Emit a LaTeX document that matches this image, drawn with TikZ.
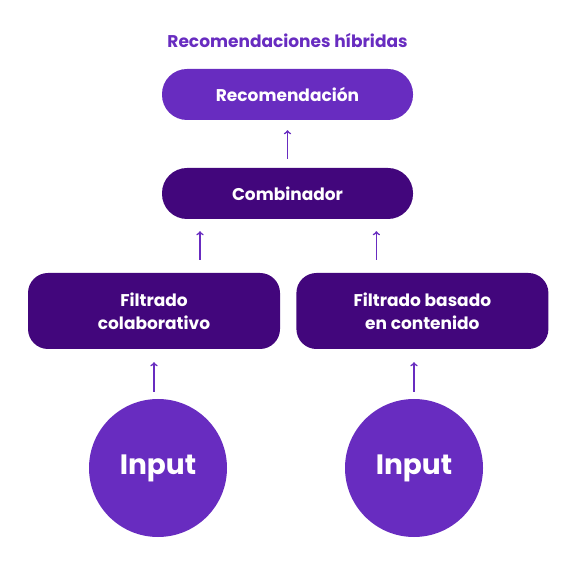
\documentclass[tikz,border=0pt]{standalone}
\usepackage{fontspec}
\setmainfont{Poppins}
\usetikzlibrary{positioning}
\definecolor{moradoClaro}{RGB}{104,44,192}
\definecolor{moradoOscuro}{RGB}{66,6,124}
\tikzstyle{CajaClara}=[rectangle, rounded corners=25pt, fill=moradoClaro, text=white, minimum width=251pt, minimum height=51pt, font=\bfseries\fontsize{17}{20}\selectfont]
\tikzstyle{CajaOscura}=[rectangle, rounded corners=25pt, fill=moradoOscuro, text=white, minimum width=251pt, minimum height=51pt, font=\bfseries\fontsize{17}{20}\selectfont]
\tikzstyle{Filtro}=[rectangle, rounded corners=20pt, fill=moradoOscuro, text=white, minimum width=252pt, minimum height=76pt, align=center, font=\bfseries\fontsize{17}{23}\selectfont]
\tikzstyle{Entrada}=[circle, fill=moradoClaro, text=white, minimum size=138pt, inner sep=0pt, font=\bfseries\fontsize{28}{30}\selectfont]
\tikzstyle{Flecha}=[->, line width=1.6pt, draw=moradoClaro]

\begin{document}
\begin{tikzpicture}[x=1pt, y=1pt]
			\useasboundingbox (0,0) rectangle (575,570);
			%Nodos
			\node[CajaClara]		(recomendacion)		at (287.5,475.5)		{Recomendación};
			\node[text=moradoClaro, font=\bfseries\fontsize{17}{20}\selectfont]	(titulo)	[above=18pt of recomendacion]	{Recomendaciones híbridas};
			\node[CajaOscura]		(combinador)		at (287.5,376.5)		{Combinador};

			\node[Filtro]		(colaborativo)		at (154,259)		{Filtrado\\colaborativo};
			\node[Filtro]		(contenido)		[right=16pt of colaborativo]	{Filtrado basado\\en contenido};

			\node[Entrada]		(input_a)		at (158,102)		{Input};
			\node[Entrada]		(input_b)		at (414,102)		{Input};

			%Lineas
			\draw[Flecha, shorten <=9pt, shorten >=10pt] (combinador.north) -- (recomendacion.south);
			\draw[Flecha, shorten <=13pt, shorten >=12pt] ([xshift=46pt]colaborativo.north) -- ([xshift=46pt]colaborativo.north |- combinador.south);
			\draw[Flecha, shorten <=13pt, shorten >=12pt] ([xshift=-46pt]contenido.north) -- ([xshift=-46pt]contenido.north |- combinador.south);
			\draw[Flecha, shorten <=7pt, shorten >=13pt] (colaborativo.south |- input_a.north) -- (colaborativo.south);
			\draw[Flecha, shorten <=7pt, shorten >=13pt] (input_b.north) -- (input_b.north |- contenido.south);

		\end{tikzpicture}
\end{document}
